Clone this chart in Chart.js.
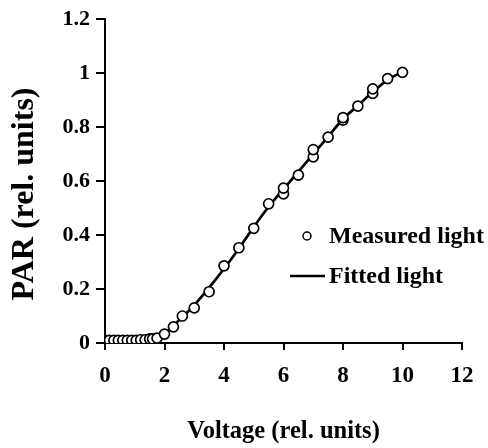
<!DOCTYPE html>
<html>
<head>
<meta charset="utf-8">
<script src="https://cdn.jsdelivr.net/npm/chart.js@4"></script>
<style>
  html, body { margin: 0; padding: 0; background: #fff; }
  #wrap { width: 488px; height: 448px; }
</style>
</head>
<body>
<div id="wrap"><canvas id="myChart" width="488" height="448"></canvas></div>
<script>
// measured light (voltage, PAR)
var measuredV = [0, 0.15, 0.3, 0.45, 0.6, 0.75, 0.9, 1.05, 1.2, 1.35, 1.5, 1.6, 1.75,
  2.0, 2.3, 2.6, 3.0, 3.5, 4.0, 4.5, 5.0, 5.5, 6.0, 6.0, 6.5, 7.0, 7.0, 7.5,
  8.0, 8.0, 8.5, 9.0, 9.0, 9.5, 10.0];
var measuredPAR = [0.01, 0.01, 0.01, 0.01, 0.01, 0.01, 0.01, 0.01, 0.012, 0.012, 0.015, 0.015, 0.018,
  0.033, 0.06, 0.10, 0.13, 0.19, 0.286, 0.353, 0.425, 0.516, 0.553, 0.574, 0.622, 0.69, 0.717, 0.763,
  0.826, 0.835, 0.878, 0.925, 0.942, 0.98, 1.003];
// fitted curve
var fittedV = [0, 0.5, 1.0, 1.5, 1.8, 2.0, 2.5, 3.0, 3.5, 4.0, 4.5, 5.0, 5.5, 6.0, 6.5, 7.0, 7.5, 8.0, 8.5, 9.0, 9.5, 10.0];
var fittedPAR = [0.01, 0.01, 0.012, 0.018, 0.026, 0.035, 0.085, 0.14, 0.205, 0.275, 0.35, 0.43, 0.505, 0.57, 0.635, 0.7, 0.765, 0.83, 0.88, 0.93, 0.975, 1.005];
var xTicks = [0, 2, 4, 6, 8, 10, 12];
var yTicks = [0, 0.2, 0.4, 0.6, 0.8, 1, 1.2];

var FONT = '"Liberation Serif", "Times New Roman", serif';

function pts(xs, ys) {
  return xs.map(function (x, i) { return {x: x, y: ys[i]}; });
}

// legend inside the plot + y title (sits a bit below the axis middle)
var extras = {
  id: 'extras',
  afterDraw: function (chart) {
    var c = chart.ctx;
    c.save();
    c.fillStyle = '#000';
    c.strokeStyle = '#000';
    c.font = 'bold 24px ' + FONT;
    c.textBaseline = 'middle';
    c.textAlign = 'left';
    c.beginPath();
    c.arc(307, 236, 4, 0, Math.PI * 2);
    c.lineWidth = 1.5;
    c.stroke();
    c.fillText('Measured light', 329, 237);
    c.beginPath();
    c.moveTo(290, 276);
    c.lineTo(325, 276);
    c.lineWidth = 2.5;
    c.stroke();
    c.fillText('Fitted light', 329, 277);

    c.translate(25, 194);
    c.rotate(-Math.PI / 2);
    c.textAlign = 'center';
    c.font = 'bold 32px ' + FONT;
    c.fillText('PAR (rel. units)', 0, 0);
    c.restore();
  }
};

var ctx = document.getElementById('myChart').getContext('2d');
var g = {
  type: 'scatter',
  data: {
    datasets: [{
      label: 'Measured light',
      data: pts(measuredV, measuredPAR),
      pointRadius: 5,
      pointBackgroundColor: '#fff',
      pointBorderColor: '#000',
      pointBorderWidth: 1.7,
      showLine: false
    }, {
      label: 'Fitted light',
      data: pts(fittedV, fittedPAR),
      showLine: true,
      borderColor: '#000',
      borderWidth: 2.7,
      pointRadius: 0,
      cubicInterpolationMode: 'monotone'
    }]
  },
  options: {
    responsive: false,
    animation: false,
    layout: {padding: {top: 19, right: 26, left: 0, bottom: 0}},
    plugins: {legend: {display: false}, tooltip: {enabled: false}},
    scales: {
      x: {
        type: 'linear', min: 0, max: 12,
        afterBuildTicks: function (s) { s.ticks = xTicks.map(function (v) { return {value: v}; }); },
        afterFit: function (s) { s.height = 105; },
        border: {color: '#000', width: 2},
        grid: {drawOnChartArea: false, drawTicks: true, tickLength: 7, color: '#000', lineWidth: 2},
        ticks: {color: '#000', font: {family: FONT, size: 23, weight: 'bold'}, padding: 12, maxRotation: 0},
        title: {display: true, text: 'Voltage (rel. units)', color: '#000',
          font: {family: FONT, size: 24.5, weight: 'bold'}, padding: {top: 10, bottom: 2}}
      },
      y: {
        type: 'linear', min: 0, max: 1.2,
        afterBuildTicks: function (s) { s.ticks = yTicks.map(function (v) { return {value: v}; }); },
        afterFit: function (s) { s.width = 105; },
        border: {color: '#000', width: 2},
        grid: {drawOnChartArea: false, drawTicks: true, tickLength: 9, color: '#000', lineWidth: 2},
        ticks: {color: '#000', font: {family: FONT, size: 22, weight: 'bold'}, padding: 6,
          callback: function (v) { return String(v); }},
        title: {display: false}
      }
    }
  },
  plugins: [extras]
};
new Chart(ctx, g);
</script>
</body>
</html>
